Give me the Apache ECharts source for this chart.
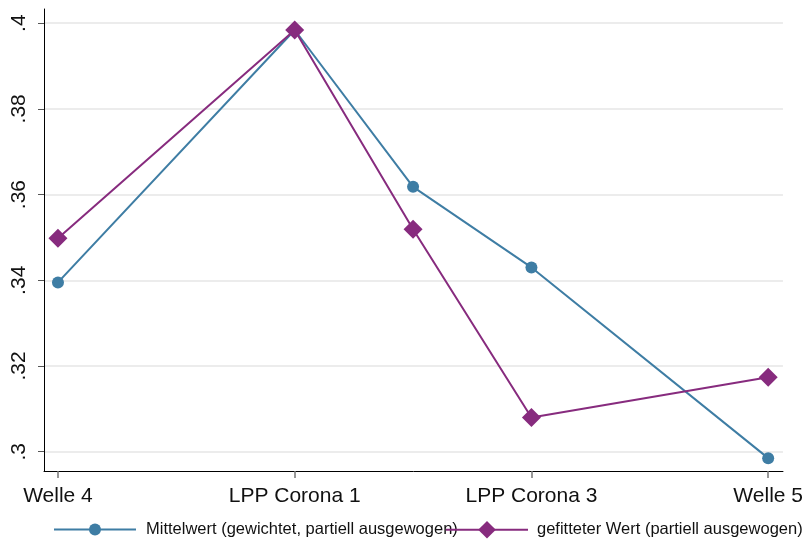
<!DOCTYPE html>
<html><head><meta charset="utf-8">
<script src="https://cdn.jsdelivr.net/npm/echarts@6/dist/echarts.min.js"></script>
<style>html,body{margin:0;padding:0;background:#fff}#c{width:806px;height:543px}</style>
</head><body><div id="c"></div>
<script>
const xPositions = [0, 2, 3, 4, 6];
const tickPositions = [0, 2, 4, 6];
const tickLabels = ['Welle 4', 'LPP Corona 1', 'LPP Corona 3', 'Welle 5'];
const yTicks = [0.30, 0.32, 0.34, 0.36, 0.38, 0.40];
const yTickLabels = ['.3', '.32', '.34', '.36', '.38', '.4'];
const meanName = 'Mittelwert (gewichtet, partiell ausgewogen)';
const fitName = 'gefitteter Wert (partiell ausgewogen)';
const meanValues = [0.3395, 0.3984, 0.3618, 0.3430, 0.2985];
const fitValues = [0.3498, 0.3984, 0.3519, 0.3080, 0.3174];

const blue = '#3e7da4';
const purple = '#872b7e';
const font = 'Liberation Sans, Arial, sans-serif';

const pairs = (vals) => xPositions.map((x, i) => [x, vals[i]]);

const chart = echarts.init(document.getElementById('c'), null, {renderer: 'canvas'});
chart.setOption({
  animation: false,
  backgroundColor: '#fff',
  grid: {left: 44, right: 20, top: 9, bottom: 72, containLabel: false},
  xAxis: {
    type: 'value', min: -0.118, max: 6.125,
    axisLine: {show: true, onZero: false, lineStyle: {color: '#000', width: 1}},
    axisTick: {show: true, length: 7, customValues: tickPositions, lineStyle: {color: '#777', width: 1.5}},
    axisLabel: {
      customValues: tickPositions, margin: 15,
      fontFamily: font, fontSize: 21, color: '#111',
      formatter: v => tickLabels[tickPositions.indexOf(Math.round(v))] || ''
    },
    splitLine: {show: false}
  },
  yAxis: {
    type: 'value', min: 0.2955, max: 0.4033,
    axisLine: {show: true, onZero: false, lineStyle: {color: '#000', width: 1}},
    axisTick: {show: true, length: 6, customValues: yTicks, lineStyle: {color: '#555', width: 1}},
    axisLabel: {
      customValues: yTicks, rotate: 90, margin: 14, align: 'center', verticalAlign: 'bottom',
      fontFamily: font, fontSize: 21, color: '#111',
      formatter: v => { const i = yTicks.findIndex(t => Math.abs(t - v) < 1e-6); return i >= 0 ? yTickLabels[i] : ''; }
    },
    splitLine: {show: true, lineStyle: {color: '#e6e6e6', width: 1.5}}
  },
  legend: [
    {
      data: [meanName], left: 53, top: 521, padding: 0, itemWidth: 82, itemHeight: 15, itemGap: 0,
      textStyle: {fontFamily: font, fontSize: 16.5, color: '#111', padding: [0, 0, 0, 5]}
    },
    {
      data: [fitName], left: 445, top: 521, padding: 0, itemWidth: 82, itemHeight: 22, itemGap: 0,
      textStyle: {fontFamily: font, fontSize: 16.5, color: '#111', padding: [0, 0, 0, 4]}
    }
  ],
  series: [
    {
      name: meanName, type: 'line', data: pairs(meanValues),
      symbol: 'circle', symbolSize: 12,
      lineStyle: {color: blue, width: 2}, itemStyle: {color: blue}
    },
    {
      name: fitName, type: 'line', data: pairs(fitValues),
      symbol: 'diamond', symbolSize: 19,
      lineStyle: {color: purple, width: 2}, itemStyle: {color: purple}
    }
  ]
});
</script></body></html>
